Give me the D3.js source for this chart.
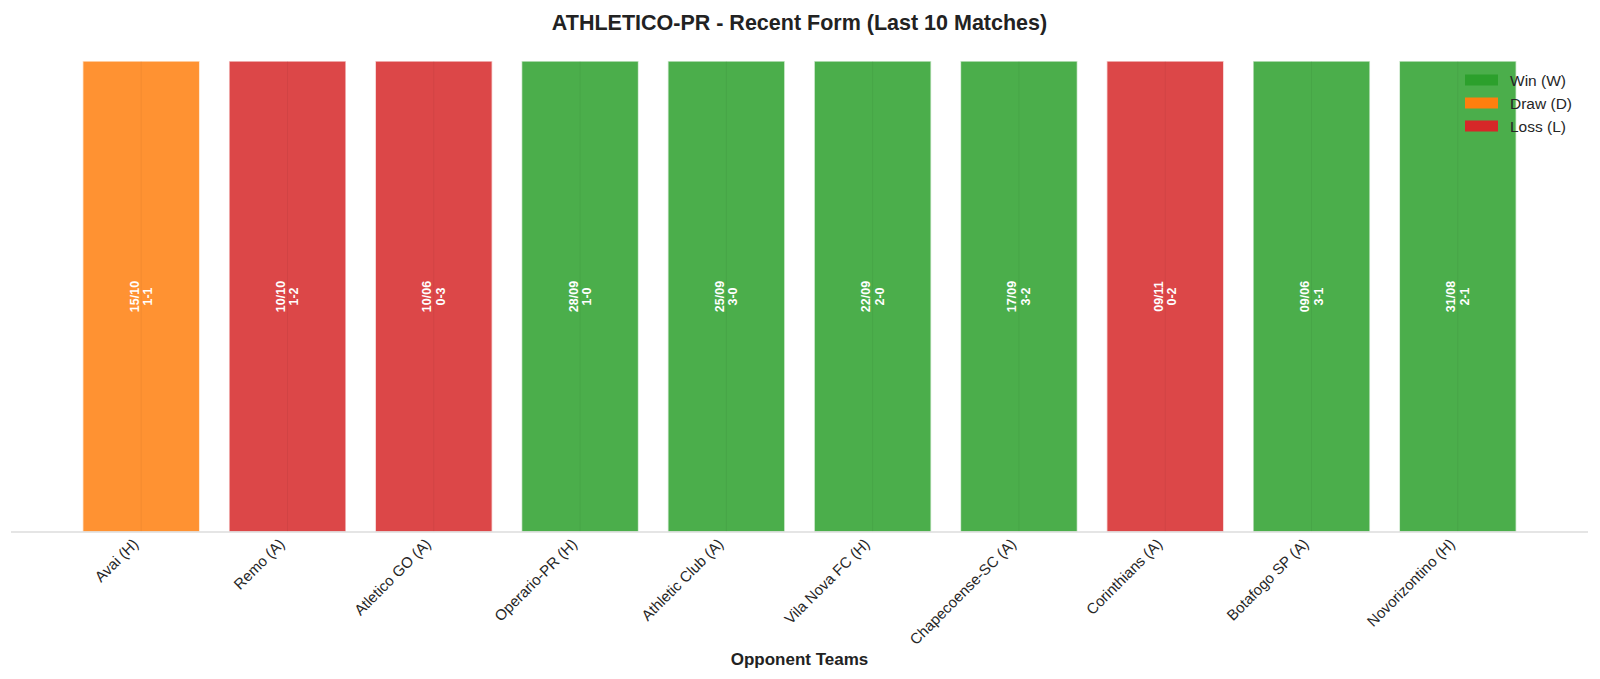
<!DOCTYPE html>
<html>
<head>
<meta charset="utf-8">
<script src="https://cdn.jsdelivr.net/npm/d3@7"></script>
<style>
  body { margin: 0; background: #fff; }
  svg { display: block; font-family: "Liberation Sans", Arial, sans-serif; }
</style>
</head>
<body>
<svg id="chart" width="1600" height="679"></svg>
<script>
// match data (most recent first)
const opponents = ["Avai (H)", "Remo (A)", "Atletico GO (A)", "Operario-PR (H)", "Athletic Club (A)",
  "Vila Nova FC (H)", "Chapecoense-SC (A)", "Corinthians (A)", "Botafogo SP (A)", "Novorizontino (H)"];
const dates = ["15/10", "10/10", "10/06", "28/09", "25/09", "22/09", "17/09", "09/11", "09/06", "31/08"];
const scores = ["1-1", "1-2", "0-3", "1-0", "3-0", "2-0", "3-2", "0-2", "3-1", "2-1"];
const results = ["D", "L", "L", "W", "W", "W", "W", "L", "W", "W"];

const resultKeys = ["W", "D", "L"];
const resultNames = ["Win (W)", "Draw (D)", "Loss (L)"];
const resultColors = ["#2ca02c", "#ff7f0e", "#d62728"];

const svg = d3.select("#chart");
const color = d3.scaleOrdinal().domain(resultKeys).range(resultColors);

const n = opponents.length;
const pad = 0.4 + 0.05 * (n - 1 + 0.8); // same margins as a bar plot
const x = d3.scaleLinear().domain([-pad, n - 1 + pad]).range([11, 1588]);
const y = d3.scaleLinear().domain([0, 1]).range([532, 61]);
const bw = (x(1) - x(0)) * 0.8;

const rows = opponents.map((o, i) => ({ i, o, date: dates[i], score: scores[i], res: results[i] }));

// title
svg.append("text")
  .attr("x", (x.range()[0] + x.range()[1]) / 2)
  .attr("y", 30)
  .attr("text-anchor", "middle")
  .attr("font-size", 21.5)
  .attr("font-weight", "bold")
  .attr("fill", "#222")
  .text("ATHLETICO-PR - Recent Form (Last 10 Matches)");

// bars
const bars = svg.append("g");
bars.selectAll("rect")
  .data(rows)
  .join("rect")
  .attr("x", d => x(d.i) - bw / 2)
  .attr("y", y(1))
  .attr("width", bw)
  .attr("height", y(0) - y(1))
  .attr("fill", d => color(d.res))
  .attr("fill-opacity", 0.85)
  .attr("stroke", "#fff")
  .attr("stroke-opacity", 0.7)
  .attr("stroke-width", 1.5);

// faint grid line showing through the bars
bars.selectAll("line")
  .data(rows)
  .join("line")
  .attr("x1", d => x(d.i)).attr("x2", d => x(d.i))
  .attr("y1", y(1)).attr("y2", y(0))
  .attr("stroke", "#000")
  .attr("stroke-opacity", 0.05)
  .attr("stroke-width", 1);

// date / score labels inside bars
const lbl = svg.append("g").selectAll("text")
  .data(rows)
  .join("text")
  .attr("transform", d => `translate(${x(d.i)},${(y(0) + y(1)) / 2}) rotate(-90)`)
  .attr("text-anchor", "middle")
  .attr("font-size", 12.5)
  .attr("font-weight", "bold")
  .attr("fill", "#fff");
lbl.append("tspan").attr("x", 0).attr("y", -2.5).text(d => d.date);
lbl.append("tspan").attr("x", 0).attr("y", 11).text(d => d.score);

// x axis
svg.append("line")
  .attr("x1", x.range()[0]).attr("x2", x.range()[1])
  .attr("y1", y(0)).attr("y2", y(0))
  .attr("stroke", "#dcdcdc")
  .attr("stroke-width", 1.5);

svg.append("g").selectAll("text")
  .data(rows)
  .join("text")
  .attr("transform", d => `translate(${x(d.i) - 2},${y(0) + 13}) rotate(-45)`)
  .attr("text-anchor", "end")
  .attr("font-size", 15)
  .attr("fill", "#262626")
  .text(d => d.o);

svg.append("text")
  .attr("x", (x.range()[0] + x.range()[1]) / 2)
  .attr("y", 665)
  .attr("text-anchor", "middle")
  .attr("font-size", 17)
  .attr("font-weight", "bold")
  .attr("fill", "#222")
  .text("Opponent Teams");

// legend
const leg = svg.append("g").attr("transform", "translate(1465,80)");
const item = leg.selectAll("g")
  .data(resultKeys)
  .join("g")
  .attr("transform", (d, i) => `translate(0,${i * 23})`);
item.append("rect")
  .attr("x", 0).attr("y", -5.5)
  .attr("width", 33).attr("height", 11)
  .attr("fill", d => color(d));
item.append("text")
  .attr("x", 45).attr("y", 5.5)
  .attr("font-size", 15.5)
  .attr("fill", "#262626")
  .text((d, i) => resultNames[i]);
</script>
</body>
</html>
